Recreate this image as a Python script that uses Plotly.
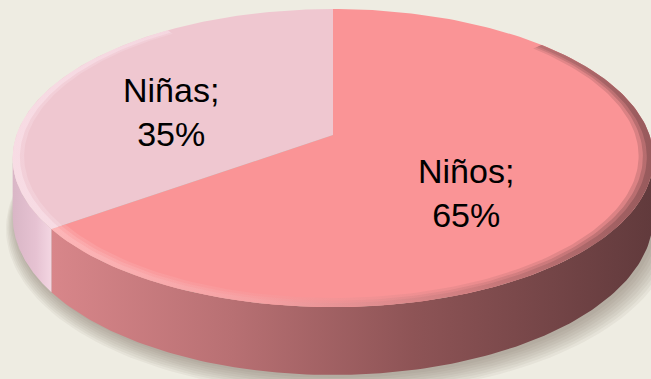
import numpy as np
import plotly.graph_objects as go

# ---- data (clockwise from 12 o'clock) ----
labels = ["Niños", "Niñas"]
values = [65, 35]

# ---- styles ----
top_colors = ["#FA9496", "#EFC7D0"]
side_scales = [
    [[0, "#D8868A"], [0.3, "#B87073"], [0.6, "#8E5456"], [1, "#613A3C"]],
    [[0, "#D9B6C6"], [0.6, "#E6C2D2"], [1, "#F3D6E2"]],
]
bevel_scales = [
    [[0, "#FDBABC"], [0.35, "#F5A2A4"], [0.7, "#C97A7C"], [1, "#8A5254"]],
    [[0, "#F9E0E8"], [1, "#F6DAE3"]],
]
label_pos = [(466, 193), (171, 112)]
BG = "#EEECE2"

# ---- projection of the tilted disc (perspective) ----
CX, CY = 333.0, 135.0
A, B, C, D = 316.5, 145.5, 0.1544, 57.4


def proj(t, r=1.0, z=0.0):
    ang = 2 * np.pi * np.asarray(t)
    u = r * np.sin(ang)
    v = -r * np.cos(ang)
    w = 1 - C * v
    return CX + A * u / w, CY + (B * v + D * z) / w


fracs = np.array(values, dtype=float) / sum(values)
bounds = np.concatenate([[0], np.cumsum(fracs)])

# silhouette fractions (horizontal extremes)
t_right = (np.pi / 2 + np.arcsin(C)) / (2 * np.pi)
t_left = (3 * np.pi / 2 - np.arcsin(C)) / (2 * np.pi)

fig = go.Figure()

# ---- soft shadow ----
tt = np.linspace(0, 1, 200)
for k in range(8):
    sx, sy = proj(tt, 1.0 + 0.006 * k, 1.0)
    fig.add_trace(go.Scatter(x=sx + 3 + k * 0.6, y=sy + 3 + k * 1.0, mode="lines",
                             fill="toself", fillcolor="rgba(110,105,90,0.07)",
                             line=dict(width=0), hoverinfo="skip", showlegend=False))

# ---- side walls ----
for i in range(len(values)):
    a0, a1 = bounds[i], bounds[i + 1]
    s0, s1 = max(a0, t_right), min(a1, t_left)
    if s1 <= s0:
        continue
    ts = np.linspace(s0, s1, 120)
    xt, yt = proj(ts, 1.0, 0.0)
    xb, yb = proj(ts[::-1], 1.0, 1.0)
    xs = np.concatenate([xt, xb, xt[:1]])
    ys = np.concatenate([yt, yb, yt[:1]])
    fig.add_trace(go.Scatter(x=xs, y=ys, mode="lines", fill="toself",
                             fillgradient=dict(type="horizontal", colorscale=side_scales[i],
                                               start=float(xs.min()), stop=float(xs.max())),
                             line=dict(width=0), hoverinfo="skip", showlegend=False))

# ---- top faces ----
for i in range(len(values)):
    ts = np.linspace(bounds[i], bounds[i + 1], 200)
    xa, ya = proj(ts)
    xs = np.concatenate([[CX], xa, [CX]])
    ys = np.concatenate([[CY], ya, [CY]])
    fig.add_trace(go.Scatter(x=xs, y=ys, mode="lines", fill="toself",
                             fillcolor=top_colors[i], line=dict(width=0),
                             hoverinfo="skip", showlegend=False))

# ---- soft bevel bands on the top edge ----
for i in range(len(values)):
    a0, a1 = bounds[i], bounds[i + 1]
    if i == 0:
        s0, s1 = max(a0, 0.13), a1
        rings = [(0.955, 0.3), (0.968, 0.45), (0.98, 0.7)]
    else:
        s0, s1 = a0, min(a1, 0.9)
        rings = [(0.965, 0.35), (0.978, 0.75)]
    ts = np.linspace(s0, s1, 150)
    for r_in, op in rings:
        xo, yo = proj(ts, 1.0)
        xi, yi = proj(ts[::-1], r_in)
        xs = np.concatenate([xo, xi, xo[:1]])
        ys = np.concatenate([yo, yi, yo[:1]])
        fig.add_trace(go.Scatter(x=xs, y=ys, mode="lines", fill="toself", opacity=op,
                                 fillgradient=dict(type="horizontal", colorscale=bevel_scales[i],
                                                   start=float(xs.min()), stop=float(xs.max())),
                                 line=dict(width=0), hoverinfo="skip", showlegend=False))

# ---- labels ----
for i, (lab, val) in enumerate(zip(labels, values)):
    fig.add_annotation(x=label_pos[i][0], y=label_pos[i][1], xref="x", yref="y",
                       text=f"{lab};<br>{val}%", showarrow=False,
                       font=dict(family="Liberation Sans, Arial, sans-serif", size=34, color="black"),
                       align="center", xanchor="center", yanchor="middle")

fig.update_layout(
    width=651, height=379, margin=dict(l=0, r=0, t=0, b=0),
    paper_bgcolor=BG, plot_bgcolor=BG, showlegend=False,
    xaxis=dict(range=[0, 651], visible=False, fixedrange=True),
    yaxis=dict(range=[379, 0], visible=False, fixedrange=True),
)

fig.write_html("out.html")
